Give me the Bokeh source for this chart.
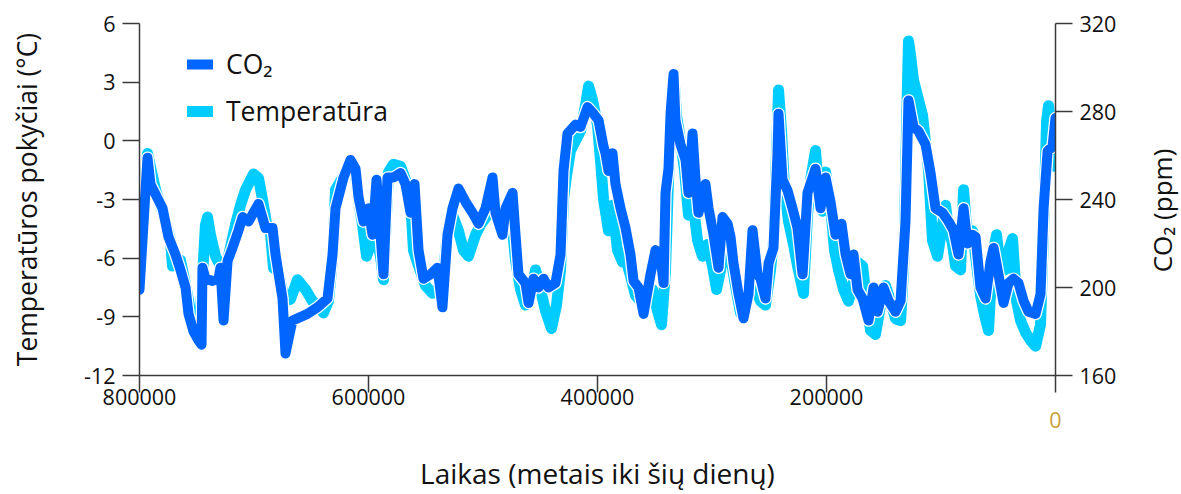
import math
from bokeh.plotting import figure
from bokeh.models import Range1d, LinearAxis, FixedTicker, Legend, LegendItem, Label
from bokeh.embed import file_html
from bokeh.resources import INLINE

# ---- data (ages in thousands of years before present) ----
co2_age_kyr = [800.0, 793.0, 790.4, 779.9, 774.7, 768.6, 764.2, 759.8, 757.2, 752.8, 748.5, 745.8, 745.0,
               742.4, 736.2, 731.0, 729.3, 726.6, 723.1, 718.8, 713.5, 710.0, 704.8, 696.1, 690.0, 683.8,
               681.2, 675.1, 672.5, 666.4, 662.0, 653.3, 644.5, 635.8, 631.4, 628.8, 621.8, 615.7, 611.3,
               608.7, 604.4, 600.0, 596.5, 593.0, 589.5, 586.9, 583.4, 578.2, 572.0, 567.7, 563.3, 559.8,
               556.3, 552.0, 545.8, 539.7, 535.4, 531.0, 526.6, 521.4, 515.3, 509.2, 503.9, 497.8, 491.7,
               489.1, 483.0, 480.3, 474.2, 471.6, 469.0, 462.9, 460.2, 455.9, 451.5, 447.1, 442.8, 436.7,
               432.3, 429.7, 426.2, 419.2, 414.8, 408.7, 403.5, 399.1, 394.7, 393.0, 390.4, 386.9, 384.3,
               379.9, 375.5, 371.2, 368.5, 364.2, 359.8, 353.7, 349.3, 345.0, 342.3, 340.6, 338.0, 336.2,
               333.6, 331.9, 327.5, 323.1, 320.5, 317.0, 314.4, 311.8, 305.7, 303.0, 298.7, 294.3, 290.8,
               286.4, 283.8, 281.2, 276.8, 272.5, 268.1, 264.6, 260.2, 257.6, 253.3, 250.6, 246.3, 242.8,
               241.9, 238.4, 234.0, 229.7, 225.3, 220.9, 216.6, 212.2, 209.6, 205.2, 200.8, 196.5, 192.1,
               186.9, 183.3, 179.0, 176.4, 172.9, 168.5, 163.3, 158.9, 155.4, 150.2, 145.8, 139.7, 135.3,
               131.0, 128.4, 124.0, 119.6, 113.5, 109.1, 104.8, 98.7, 93.4, 89.1, 84.7, 80.3, 76.8, 72.5,
               69.8, 65.5, 61.1, 56.7, 54.1, 49.8, 45.4, 41.0, 36.7, 32.3, 27.9, 23.6, 17.4, 13.1, 10.4,
               6.9, 2.6, 0.0]
co2_ppm = [199, 259, 247, 236, 223, 215, 208, 200, 188, 180, 176, 174, 209,
           204, 203, 204, 209, 185, 212, 218, 226, 232, 230, 238, 227, 227,
           215, 195, 170, 185, 186, 188, 191, 195, 215, 236, 250, 258, 254,
           241, 230, 236, 224, 249, 224, 206, 250, 250, 252, 247, 234, 247,
           217, 204, 206, 209, 191, 224, 236, 245, 239, 234, 229, 236, 250,
           234, 224, 236, 243, 224, 206, 202, 193, 204, 200, 204, 200, 202,
           215, 253, 270, 274, 273, 282, 279, 276, 264, 261, 253, 261, 247,
           236, 227, 215, 203, 200, 188, 206, 217, 214, 202, 243, 254, 279,
           297, 276, 265, 258, 243, 270, 249, 234, 247, 236, 224, 209, 232,
           229, 223, 211, 197, 186, 197, 226, 206, 204, 195, 211, 218, 261,
           279, 249, 244, 236, 227, 206, 243, 250, 254, 236, 250, 239, 224,
           229, 215, 206, 215, 199, 195, 185, 200, 189, 200, 194, 189, 194,
           230, 285, 273, 271, 265, 252, 236, 234, 230, 226, 215, 236, 220, 224,
           223, 200, 195, 212, 218, 206, 193, 202, 204, 202, 194, 189, 188, 197, 236,
           262, 264, 277]

temp_age_kyr = [800.0, 793.0, 786.0, 779.9, 772.9, 771.2, 764.2, 759.0, 755.5, 749.3, 746.7, 742.4, 740.6,
                738.0, 733.6, 729.3, 726.6, 722.3, 716.2, 711.8, 707.4, 700.4, 696.1, 692.6, 689.1, 685.6,
                683.0, 678.6, 673.4, 668.1, 662.0, 655.0, 648.9, 643.7, 639.3, 635.0, 631.4, 628.8, 621.8,
                615.7, 611.3, 608.7, 605.2, 601.7, 598.2, 593.9, 589.5, 586.9, 582.5, 578.2, 572.0, 567.7,
                563.3, 560.7, 556.3, 550.2, 544.1, 539.7, 535.4, 531.0, 526.6, 521.4, 517.0, 512.7, 506.5,
                502.2, 496.1, 491.7, 487.3, 482.1, 477.7, 474.2, 471.6, 467.2, 462.9, 458.5, 454.1, 449.8,
                445.4, 440.2, 435.8, 432.3, 429.7, 427.1, 423.6, 419.2, 414.8, 410.5, 407.8, 404.4, 400.0,
                397.4, 394.7, 390.4, 386.9, 382.5, 378.1, 375.5, 371.2, 366.8, 362.4, 359.8, 355.4, 351.9,
                347.6, 344.1, 340.6, 338.0, 335.4, 332.7, 331.0, 327.5, 324.0, 320.5, 317.0, 312.6, 308.3,
                303.9, 299.5, 296.0, 292.5, 288.2, 283.8, 279.5, 275.1, 270.7, 266.4, 262.0, 257.6, 253.3,
                248.9, 246.3, 243.6, 241.9, 239.3, 236.6, 233.2, 228.8, 225.3, 222.7, 220.1, 216.6, 213.9,
                209.6, 207.0, 203.5, 200.8, 196.5, 193.0, 189.5, 185.1, 180.8, 177.3, 172.9, 168.5, 165.0,
                161.5, 157.2, 152.8, 148.4, 144.1, 139.7, 135.3, 132.7, 131.0, 129.2, 128.4, 126.6, 124.0,
                119.6, 116.1, 110.9, 107.4, 103.0, 98.7, 96.0, 94.3, 89.9, 87.3, 82.9, 80.3, 76.8, 72.5,
                69.8, 65.5, 62.0, 58.5, 55.0, 51.5, 48.0, 44.5, 41.0, 37.5, 34.0, 30.5, 26.2, 21.8, 17.4,
                13.1, 10.4, 7.8, 6.1, 4.3, 1.7, 0.0]
temp_anomaly = [-5.6, -0.65, -2.5, -3.6, -5.1, -6.4, -6.1, -7.6, -8.7, -9.3, -8.7, -4.3, -3.9,
                -4.8, -5.9, -6.4, -8.7, -5.9, -4.3, -3.3, -2.5, -1.7, -1.9, -3.0, -4.2, -4.7,
                -6.5, -6.7, -8.2, -8.1, -7.1, -7.6, -8.2, -8.4, -8.8, -8.2, -6.1, -2.5, -1.8,
                -1.0, -1.8, -3.0, -4.3, -5.9, -5.3, -4.8, -5.9, -7.1, -1.6, -1.2, -1.3, -2.0,
                -3.0, -5.6, -6.4, -7.4, -7.8, -7.6, -7.4, -4.6, -3.8, -4.6, -5.6, -5.9, -4.8,
                -4.3, -3.8, -2.3, -3.8, -4.1, -3.8, -4.6, -6.1, -7.6, -8.4, -7.9, -6.6, -7.6,
                -8.7, -9.6, -8.4, -6.6, -3.0, -1.8, -0.5, 0.0, 0.5, 1.8, 2.8, 2.1, 0.8,
                -1.0, -3.0, -4.6, -3.3, -5.6, -6.2, -6.0, -6.9, -7.9, -8.2, -8.4, -8.2, -7.6,
                -8.7, -9.4, -6.6, -2.0, 1.5, 2.8, 1.3, 0.0, -1.5, -3.8, -3.0, -5.1, -5.9,
                -5.3, -6.4, -7.6, -6.6, -5.1, -5.9, -7.4, -8.8, -8.4, -7.1, -7.6, -8.2, -8.4,
                -6.6, -5.1, -0.5, 2.6, 0.5, -2.5, -4.1, -5.3, -6.4, -7.1, -7.8, -3.8, -2.0,
                -0.5, -2.5, -3.6, -1.6, -3.3, -5.6, -6.6, -7.6, -8.2, -7.4, -6.2, -6.4, -8.2,
                -9.7, -9.9, -8.4, -7.4, -8.2, -9.1, -9.2, -6.6, -2.0, 3.1, 5.1, 4.4, 3.1,
                2.1, 1.3, -1.5, -5.1, -5.9, -4.3, -3.3, -4.1, -5.3, -6.4, -6.6, -2.5, -5.1, -4.6,
                -5.9, -7.9, -8.9, -9.7, -5.9, -4.8, -6.6, -6.6, -5.6, -5.0, -8.2, -9.2, -9.8, -10.2, -10.5,
                -9.4, -4.6, 1.0, 1.8, 0.8, -1.3, 0.0]

x_ticks = [800000, 600000, 400000, 200000, 0]
x_tick_labels = ["800000", "600000", "400000", "200000", "0"]
temp_ticks = [-12, -9, -6, -3, 0, 3, 6]
temp_tick_labels = ["-12", "-9", "-6", "-3", "0", "3", "6"]
co2_ticks = [160, 200, 240, 280, 320]
co2_tick_labels = ["160", "200", "240", "280", "320"]

co2_years = [a * 1000 for a in co2_age_kyr]
temp_years = [a * 1000 for a in temp_age_kyr]

FONT = "Open Sans"
AXIS_COLOR = "#3a3a3a"
CO2_COLOR = "#0066ff"
TEMP_COLOR = "#00ccff"
ZERO_COLOR = "#c9a03e"

p = figure(width=1181, height=494, x_range=Range1d(800000, 0), y_range=Range1d(-12, 6),
           output_backend="svg", toolbar_location=None, x_axis_location=None,
           min_border_left=139, min_border_right=126, min_border_top=23, min_border_bottom=119)
p.extra_y_ranges = {"co2": Range1d(160, 320)}
p.xgrid.visible = False
p.ygrid.visible = False
p.outline_line_color = None
p.background_fill_color = "white"
p.border_fill_color = "white"

# series
t_r = p.line(temp_years, temp_anomaly, line_color=TEMP_COLOR, line_width=11,
             line_join="round", line_cap="round")
p.line(co2_years, co2_ppm, line_color="white", line_width=12.5, line_join="round",
       line_cap="round", y_range_name="co2")
c_r = p.line(co2_years, co2_ppm, line_color=CO2_COLOR, line_width=10, line_join="round",
             line_cap="round", y_range_name="co2")

def style_axis(ax, title_size="25px"):
    ax.axis_line_color = AXIS_COLOR
    ax.axis_line_width = 1.5
    ax.major_tick_line_color = AXIS_COLOR
    ax.major_tick_line_width = 1.5
    ax.major_tick_out = 17
    ax.major_tick_in = 0
    ax.minor_tick_line_color = None
    ax.major_label_text_font = FONT
    ax.major_label_text_font_size = "21.5px"
    ax.major_label_text_color = "#111111"
    ax.major_label_standoff = 7
    ax.axis_label_text_font = FONT
    ax.axis_label_text_font_size = title_size
    ax.axis_label_text_font_style = "normal"
    ax.axis_label_text_color = "#111111"

# time axis 1 (at the frame edge): line, all ticks, golden present-day "0"
xa0 = LinearAxis()
style_axis(xa0)
xa0.ticker = FixedTicker(ticks=x_ticks)
xa0.major_label_overrides = {t: (lab if t == 0 else "") for t, lab in zip(x_ticks, x_tick_labels)}
xa0.major_label_text_color = ZERO_COLOR
xa0.major_label_standoff = 19
p.add_layout(xa0, "below")

# time axis 2 (stacked below): black labels pulled up beside the ticks, plus title
xa1 = LinearAxis()
style_axis(xa1, "28px")
xa1.ticker = FixedTicker(ticks=x_ticks)
xa1.major_label_overrides = {t: ("" if t == 0 else lab) for t, lab in zip(x_ticks, x_tick_labels)}
xa1.axis_line_color = None
xa1.major_tick_line_color = None
xa1.major_tick_out = 0
xa1.major_label_standoff = -42
xa1.axis_label = "Laikas (metais iki šių dienų)"
xa1.axis_label_standoff = 46
p.add_layout(xa1, "below")

ya = p.yaxis[0]
style_axis(ya, "26.5px")
ya.ticker = FixedTicker(ticks=temp_ticks)
ya.major_label_overrides = dict(zip(temp_ticks, temp_tick_labels))
ya.axis_label = "Temperatūros pokyčiai (°C)"
ya.axis_label_standoff = 36

ra = LinearAxis(y_range_name="co2")
style_axis(ra)
ra.ticker = FixedTicker(ticks=co2_ticks)
ra.major_label_overrides = dict(zip(co2_ticks, co2_tick_labels))
p.add_layout(ra, "right")

# CO2 axis title, reading bottom-to-top, in the right-hand panel
p.add_layout(Label(text="CO₂ (ppm)", x=42, y=165, x_units="screen", y_units="screen",
                   angle=math.pi / 2, text_align="center", text_baseline="middle",
                   text_font=FONT, text_font_size="26px", text_color="#111111"), "right")

legend = Legend(items=[LegendItem(label="CO₂", renderers=[c_r]),
                       LegendItem(label="Temperatūra", renderers=[t_r])],
                location=(48, 246), border_line_color=None, background_fill_alpha=0,
                label_text_font=FONT, label_text_font_size="26.5px", label_text_color="#111111",
                glyph_width=26, glyph_height=34, label_height=34, spacing=11, padding=10,
                label_standoff=13)
p.add_layout(legend)

open("out.html", "w").write(file_html(p, INLINE))
